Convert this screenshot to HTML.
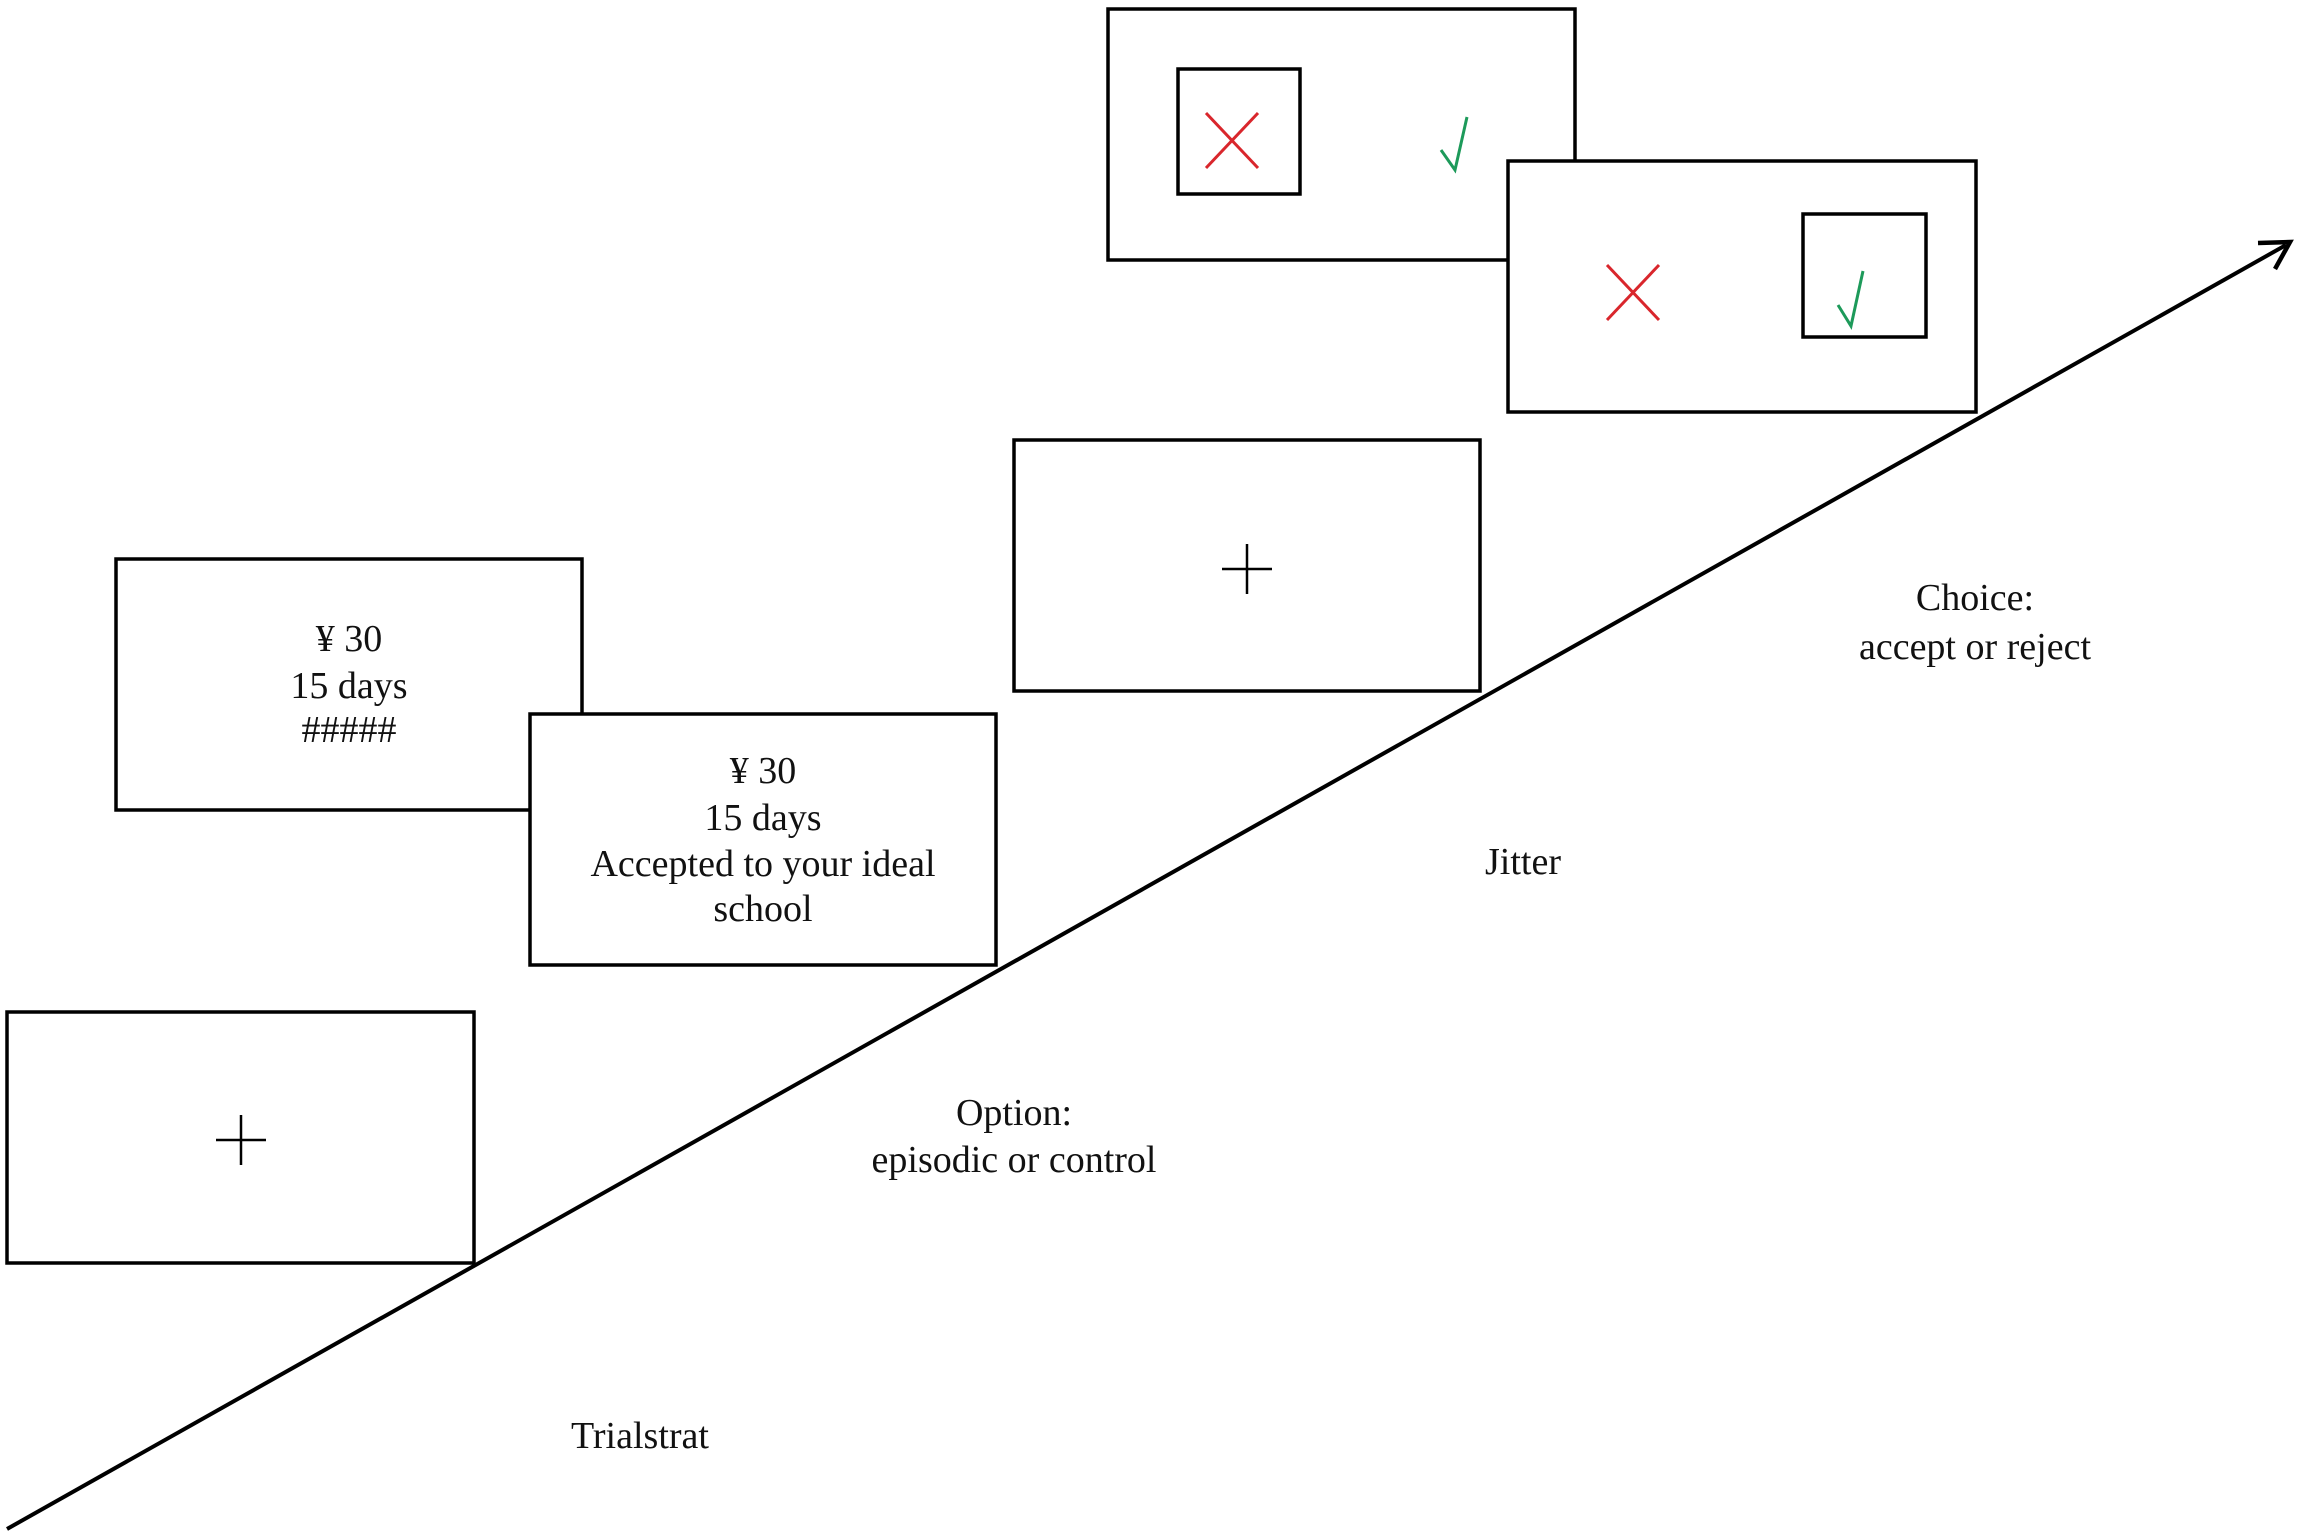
<!DOCTYPE html>
<html><head><meta charset="utf-8"><style>
html,body{margin:0;padding:0;background:#fff;}
svg{display:block;}
text{font-family:"Liberation Serif",serif;fill:#111;font-size:38px;}
</style></head><body>
<svg width="2300" height="1537" viewBox="0 0 2300 1537">
<g fill="#fff" stroke="#000" stroke-width="3.5">
<rect x="1108" y="9" width="467" height="251"/>
<rect x="1178" y="69" width="122" height="125"/>
<rect x="1508" y="161" width="468" height="251"/>
<rect x="1803" y="214" width="123" height="123"/>
<rect x="1014" y="440" width="466" height="251"/>
<rect x="116" y="559" width="466" height="251"/>
<rect x="530" y="714" width="466" height="251"/>
<rect x="7" y="1012" width="467" height="251"/>
</g>
<line x1="7" y1="1529" x2="2286" y2="245" stroke="#000" stroke-width="4"/>
<polyline points="2258,243 2290,242 2275,269" fill="none" stroke="#000" stroke-width="4.5"/>
<g stroke="#000" stroke-width="2.5">
<line x1="216" y1="1140" x2="266" y2="1140"/><line x1="241" y1="1115" x2="241" y2="1165"/>
<line x1="1222" y1="569" x2="1272" y2="569"/><line x1="1247" y1="544" x2="1247" y2="594"/>
</g>
<g stroke="#d9262c" stroke-width="3">
<line x1="1206" y1="113" x2="1258" y2="168"/><line x1="1258" y1="113" x2="1206" y2="168"/>
<line x1="1607" y1="265" x2="1659" y2="320"/><line x1="1659" y1="265" x2="1607" y2="320"/>
</g>
<g fill="none" stroke="#1d9a5a" stroke-width="3">
<polyline points="1441,150 1455,170 1467,117"/>
<polyline points="1838,305 1851,326 1863,271"/>
</g>
<g text-anchor="middle">
<text x="349" y="651">¥ 30</text>
<text x="349" y="698">15 days</text>
<text x="349" y="742" fill="#444">#####</text>
<text x="763" y="783">¥ 30</text>
<text x="763" y="830">15 days</text>
<text x="763" y="876">Accepted to your ideal</text>
<text x="763" y="921">school</text>
<text x="1014" y="1125">Option:</text>
<text x="1014" y="1172">episodic or control</text>
<text x="1975" y="610">Choice:</text>
<text x="1975" y="659">accept or reject</text>
<text x="1523" y="874">Jitter</text>
<text x="640" y="1448">Trialstrat</text>
</g>
</svg>
</body></html>
